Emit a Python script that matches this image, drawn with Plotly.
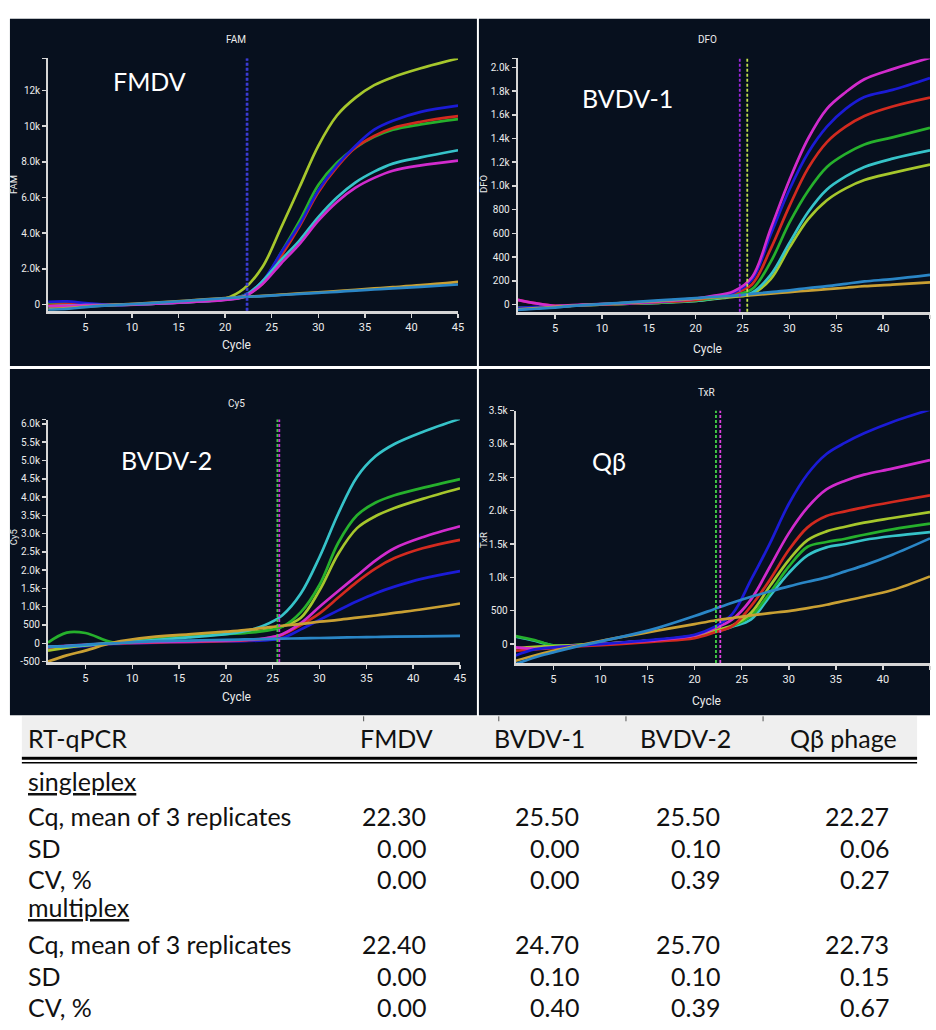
import plotly.graph_objects as go

W, H = 936, 1030

# ---------------------------------------------------------------- data
CYCLES = [1, 3, 5, 8, 12, 16, 20, 22, 24, 26, 28, 30, 32, 34, 36, 38, 41, 45]

# FAM channel (FMDV)
FAM_YELLOWGREEN = [60, 30, -20, -30, 40, 150, 330, 880, 2100, 4300, 6600, 8900, 10600, 11600, 12300, 12750, 13250, 13800]
FAM_BLUE = [150, 170, 80, -30, 30, 130, 280, 500, 1300, 2900, 4500, 6400, 7800, 8900, 9800, 10300, 10800, 11150]
FAM_RED = [-50, 0, 0, -30, 30, 130, 280, 480, 1150, 2700, 4400, 6300, 7700, 8800, 9450, 9900, 10250, 10560]
FAM_GREEN = [20, 30, 0, -30, 30, 140, 290, 520, 1250, 2900, 4700, 6700, 7950, 8800, 9400, 9800, 10100, 10400]
FAM_CYAN = [-100, -60, -40, -30, 30, 130, 270, 450, 1300, 2500, 3600, 4900, 6000, 6850, 7450, 7900, 8250, 8650]
FAM_MAGENTA = [-100, -80, -40, -30, 30, 130, 260, 420, 1150, 2300, 3400, 4700, 5750, 6550, 7100, 7500, 7800, 8070]
FAM_ORANGE = [-250, -200, -120, -20, 90, 220, 360, 430, 480, 550, 620, 680, 750, 820, 900, 970, 1080, 1270]
FAM_STEEL = [-300, -250, -150, -40, 80, 210, 350, 420, 470, 530, 590, 650, 710, 780, 840, 900, 990, 1120]

# DFO channel (BVDV-1)
DFO_MAGENTA = [40, 10, -10, 0, 10, 25, 50, 75, 110, 230, 640, 1050, 1400, 1650, 1790, 1900, 1985, 2080]
DFO_BLUE = [-30, -20, -15, -5, 10, 25, 50, 70, 100, 210, 590, 970, 1280, 1500, 1650, 1750, 1810, 1910]
DFO_RED = [40, 10, -10, -5, 5, 20, 40, 65, 95, 170, 470, 830, 1150, 1370, 1500, 1590, 1670, 1745]
DFO_GREEN = [-30, -25, -15, -5, 5, 18, 35, 55, 80, 130, 360, 690, 960, 1160, 1270, 1350, 1410, 1490]
DFO_CYAN = [-30, -25, -15, -5, 5, 15, 30, 50, 70, 100, 250, 520, 780, 970, 1080, 1160, 1230, 1300]
DFO_YELLOWGREEN = [-30, -25, -15, -5, 5, 15, 30, 48, 65, 90, 215, 480, 720, 880, 980, 1050, 1110, 1180]
DFO_STEEL = [-45, -35, -25, -5, 15, 35, 55, 65, 75, 90, 105, 120, 140, 155, 175, 195, 215, 250]
DFO_ORANGE = [-40, -30, -20, -5, 12, 30, 50, 60, 70, 80, 92, 105, 118, 130, 142, 155, 168, 188]

# Cy5 channel (BVDV-2)
CY5_CYAN = [-100, -80, -50, 0, 80, 160, 250, 330, 480, 760, 1360, 2360, 3550, 4550, 5120, 5450, 5780, 6140]
CY5_GREEN = [20, 290, 280, 20, 100, 180, 250, 280, 330, 450, 850, 1600, 2750, 3500, 3850, 4050, 4250, 4490]
CY5_YELLOWGREEN = [-200, -120, -60, 20, 110, 190, 260, 300, 350, 460, 700, 1450, 2450, 3150, 3480, 3700, 3950, 4240]
CY5_MAGENTA = [-100, -70, -40, 0, 30, 50, 70, 90, 130, 250, 550, 1000, 1430, 1850, 2270, 2600, 2900, 3200]
CY5_RED = [-120, -90, -50, -10, 20, 40, 60, 80, 120, 230, 500, 820, 1250, 1680, 2050, 2330, 2600, 2830]
CY5_BLUE = [-150, -120, -80, -20, 10, 30, 50, 60, 80, 140, 380, 640, 900, 1150, 1370, 1550, 1770, 1975]
CY5_ORANGE = [-500, -330, -200, 20, 170, 245, 317, 360, 420, 480, 530, 590, 640, 700, 760, 830, 930, 1087]
CY5_STEEL = [-100, -80, -40, 0, 50, 75, 95, 105, 115, 125, 135, 145, 155, 165, 172, 180, 190, 200]

# TxR channel (Qβ phage)
TXR_BLUE = [-170, -80, -50, -20, 20, 70, 140, 250, 450, 965, 1510, 2100, 2550, 2850, 3020, 3160, 3330, 3515]
TXR_MAGENTA = [-50, -70, -50, -20, 20, 60, 130, 230, 370, 670, 1160, 1660, 2050, 2320, 2450, 2540, 2630, 2757]
TXR_RED = [-100, -80, -60, -30, 0, 40, 90, 170, 270, 570, 965, 1410, 1750, 1920, 1990, 2050, 2130, 2230]
TXR_YELLOWGREEN = [-60, -40, -30, -10, 20, 60, 120, 200, 280, 470, 870, 1260, 1560, 1690, 1760, 1820, 1890, 1980]
TXR_GREEN = [120, 60, -20, -10, 20, 60, 120, 190, 270, 420, 770, 1160, 1460, 1530, 1580, 1640, 1720, 1805]
TXR_CYAN = [110, 50, -20, -10, 20, 60, 115, 180, 260, 370, 720, 1065, 1330, 1450, 1500, 1560, 1620, 1680]
TXR_STEEL = [-300, -200, -125, -20, 100, 240, 420, 520, 620, 710, 790, 866, 935, 1000, 1090, 1180, 1340, 1585]
TXR_ORANGE = [-250, -170, -100, -10, 100, 200, 300, 350, 390, 430, 465, 495, 540, 590, 650, 710, 810, 1015]

# axis ticks
CYCLE_TICKS = [5, 10, 15, 20, 25, 30, 35, 40, 45]
FAM_YTICKS = [0, 2000, 4000, 6000, 8000, 10000, 12000]
FAM_YTICKTEXT = ["0", "2.0k", "4.0k", "6.0k", "8.0k", "10k", "12k"]
DFO_YTICKS = [0, 200, 400, 600, 800, 1000, 1200, 1400, 1600, 1800, 2000]
DFO_YTICKTEXT = ["0", "200", "400", "600", "800", "1.0k", "1.2k", "1.4k", "1.6k", "1.8k", "2.0k"]
CY5_YTICKS = [-500, 0, 500, 1000, 1500, 2000, 2500, 3000, 3500, 4000, 4500, 5000, 5500, 6000]
CY5_YTICKTEXT = ["-500", "0", "500", "1.0k", "1.5k", "2.0k", "2.5k", "3.0k", "3.5k",
                 "4.0k", "4.5k", "5.0k", "5.5k", "6.0k"]
TXR_YTICKS = [0, 500, 1000, 1500, 2000, 2500, 3000, 3500]
TXR_YTICKTEXT = ["0", "500", "1.0k", "1.5k", "2.0k", "2.5k", "3.0k", "3.5k"]

# summary table
TABLE_HEADER = "RT-qPCR"
TABLE_COLUMNS = ["FMDV", "BVDV-1", "BVDV-2", "Qβ phage"]
ROW_LABELS = ["Cq, mean of 3 replicates", "SD", "CV, %"]
SINGLEPLEX_CQ = [22.30, 25.50, 25.50, 22.27]
SINGLEPLEX_SD = [0.00, 0.00, 0.10, 0.06]
SINGLEPLEX_CV = [0.00, 0.00, 0.39, 0.27]
MULTIPLEX_CQ = [22.40, 24.70, 25.70, 22.73]
MULTIPLEX_SD = [0.00, 0.10, 0.10, 0.15]
MULTIPLEX_CV = [0.00, 0.40, 0.39, 0.67]

# ---------------------------------------------------------------- styles
COLORS = {
    "yellowgreen": "#a6c72c",
    "blue": "#1b1bd6",
    "red": "#d22a1f",
    "green": "#26b02c",
    "cyan": "#36c3c9",
    "magenta": "#d12bcd",
    "orange": "#c9a033",
    "steel": "#2a86c6",
}
PANEL_BG = "#07101e"
AXIS_COLOR = "#d6d6d6"
TEXT_COLOR = "#ececec"
TICK_FONT = dict(family="Roboto, Liberation Sans Narrow, sans-serif", size=10, color=TEXT_COLOR)
LABEL_FONT = "Lato, Open Sans, sans-serif"


def px_x(x):
    return x / W


def px_y(y):
    return 1 - y / H


panels = [
    dict(channel="FAM", target="FMDV",
         series=[("yellowgreen", FAM_YELLOWGREEN), ("green", FAM_GREEN), ("red", FAM_RED),
                 ("blue", FAM_BLUE), ("cyan", FAM_CYAN), ("magenta", FAM_MAGENTA),
                 ("orange", FAM_ORANGE), ("steel", FAM_STEEL)],
         yticks=FAM_YTICKS, yticktext=FAM_YTICKTEXT,
         box=(48.5, 461, 53, 308), yrange=(-350, 13800), bg=(10, 480, 13, 364),
         cq_colors=("#3b3bd0", "#3b3bd0"), col=0,
         title_xy=(238, 34), cycle_xy=(238, 343), ytitle_xy=(13, 180), tag_xy=(150, 76)),
    dict(channel="DFO", target="BVDV-1",
         series=[("yellowgreen", DFO_YELLOWGREEN), ("cyan", DFO_CYAN), ("green", DFO_GREEN),
                 ("red", DFO_RED), ("blue", DFO_BLUE), ("magenta", DFO_MAGENTA),
                 ("orange", DFO_ORANGE), ("steel", DFO_STEEL)],
         yticks=DFO_YTICKS, yticktext=DFO_YTICKTEXT,
         box=(521, 936, 53, 309), yrange=(-60, 2075), bg=(482, 936, 13, 364),
         cq_colors=("#c4e24a", "#9a26dc"), col=1,
         title_xy=(712, 34), cycle_xy=(712, 347), ytitle_xy=(486, 180), tag_xy=(632, 93)),
    dict(channel="Cy5", target="BVDV-2",
         series=[("blue", CY5_BLUE), ("red", CY5_RED), ("magenta", CY5_MAGENTA),
                 ("yellowgreen", CY5_YELLOWGREEN), ("green", CY5_GREEN), ("cyan", CY5_CYAN),
                 ("orange", CY5_ORANGE), ("steel", CY5_STEEL)],
         yticks=CY5_YTICKS, yticktext=CY5_YTICKTEXT,
         box=(48.3, 463, 418, 663), yrange=(-510, 6120), bg=(10, 480, 367, 717),
         cq_colors=("#3fcf45", "#c92fd6"), col=2,
         title_xy=(238, 402), cycle_xy=(238, 698), ytitle_xy=(13, 537), tag_xy=(168, 459)),
    dict(channel="TxR", target="Qβ",
         series=[("cyan", TXR_CYAN), ("green", TXR_GREEN), ("yellowgreen", TXR_YELLOWGREEN),
                 ("red", TXR_RED), ("magenta", TXR_MAGENTA), ("blue", TXR_BLUE),
                 ("orange", TXR_ORANGE), ("steel", TXR_STEEL)],
         yticks=TXR_YTICKS, yticktext=TXR_YTICKTEXT,
         box=(519, 936, 409, 664), yrange=(-282, 3500), bg=(482, 936, 367, 717),
         cq_colors=("#45d447", "#e03fe0"), col=3,
         title_xy=(711, 391), cycle_xy=(711, 702), ytitle_xy=(486, 540), tag_xy=(613, 460)),
]

fig = go.Figure()
shapes = []
annotations = []
layout_axes = {}


def note(text, xy, size, family=TICK_FONT["family"], color=TEXT_COLOR, angle=0):
    annotations.append(dict(text=text, x=px_x(xy[0]), y=px_y(xy[1]), xref="paper", yref="paper",
                            showarrow=False, xanchor="center", yanchor="middle", textangle=angle,
                            font=dict(family=family, size=size, color=color)))


for i, p in enumerate(panels, start=1):
    xname = "x" if i == 1 else f"x{i}"
    yname = "y" if i == 1 else f"y{i}"
    x0, x1, y0, y1 = p["box"]

    # dark panel background
    bx0, bx1, by0, by1 = p["bg"]
    shapes.append(dict(type="rect", xref="paper", yref="paper", layer="below",
                       x0=px_x(bx0), x1=px_x(bx1), y0=px_y(by1), y1=px_y(by0),
                       fillcolor=PANEL_BG, line=dict(width=0)))

    for cname, values in p["series"]:
        fig.add_trace(go.Scatter(
            x=CYCLES, y=values, xaxis=xname, yaxis=yname, mode="lines",
            line=dict(color=COLORS[cname], width=2.7, shape="spline", smoothing=1.0),
            hoverinfo="skip", showlegend=False))

    # Cq markers: singleplex and multiplex means from the table
    for cq, color in ((SINGLEPLEX_CQ[p["col"]], p["cq_colors"][0]),
                      (MULTIPLEX_CQ[p["col"]], p["cq_colors"][1])):
        shapes.append(dict(type="line", xref=xname, yref=f"{yname} domain",
                           x0=cq, x1=cq, y0=0, y1=1,
                           line=dict(color=color, width=1.8, dash="3px,2px")))

    ytv = list(p["yticks"]) + [p["yrange"][1]]
    ytt = list(p["yticktext"]) + [""]
    layout_axes["xaxis" if i == 1 else f"xaxis{i}"] = dict(
        domain=[px_x(x0), px_x(x1)], range=[1, 45], anchor=yname,
        showgrid=False, zeroline=False, showline=True, linecolor=AXIS_COLOR, linewidth=3,
        ticks="outside", ticklen=4, tickwidth=1.5, tickcolor=AXIS_COLOR,
        tickvals=CYCLE_TICKS, tickfont=dict(TICK_FONT, size=11), fixedrange=True)
    layout_axes["yaxis" if i == 1 else f"yaxis{i}"] = dict(
        domain=[px_y(y1), px_y(y0)], range=list(p["yrange"]), anchor=xname,
        showgrid=False, zeroline=False, showline=True, linecolor=AXIS_COLOR, linewidth=2,
        ticks="outside", ticklen=4, tickwidth=1.5, tickcolor=AXIS_COLOR,
        tickvals=ytv, ticktext=ytt, tickfont=TICK_FONT, fixedrange=True)

    note(p["channel"], p["title_xy"], 10)
    note("Cycle", p["cycle_xy"], 12)
    note(p["channel"], p["ytitle_xy"], 9.5, angle=-90)
    note(p["target"], p["tag_xy"], 25, family=LABEL_FONT, color="#ffffff")

# ---------------------------------------------------------------- table
TBL_LEFT, TBL_RIGHT = 22, 923
shapes.append(dict(type="rect", xref="paper", yref="paper", layer="below",
                   x0=px_x(TBL_LEFT), x1=px_x(TBL_RIGHT), y0=px_y(758), y1=px_y(718),
                   fillcolor="#efefef", line=dict(width=0)))
shapes.append(dict(type="line", xref="paper", yref="paper",
                   x0=px_x(TBL_LEFT), x1=px_x(TBL_RIGHT), y0=px_y(760.3), y1=px_y(760.3),
                   line=dict(color="#000000", width=3)))
shapes.append(dict(type="line", xref="paper", yref="paper",
                   x0=px_x(TBL_LEFT), x1=px_x(TBL_RIGHT), y0=px_y(765), y1=px_y(765),
                   line=dict(color="#000000", width=1.5)))
for sx in (366, 502, 630, 768):
    shapes.append(dict(type="line", xref="paper", yref="paper",
                       x0=px_x(sx), x1=px_x(sx), y0=px_y(718), y1=px_y(723),
                       line=dict(color="#555555", width=1)))

TABLE_FONT = dict(family=LABEL_FONT, size=25, color="#111111")
COL_HEAD_X = [399, 543, 690, 849]
COL_RIGHT_X = [431, 585, 727, 897]
LABEL_X = 26


def cell(text, x, y, anchor):
    annotations.append(dict(text=text, x=px_x(x), y=px_y(y), xref="paper", yref="paper",
                            showarrow=False, xanchor=anchor, yanchor="middle", font=TABLE_FONT))


cell(TABLE_HEADER, LABEL_X, 740, "left")
for name, cx in zip(TABLE_COLUMNS, COL_HEAD_X):
    cell(name, cx, 740, "center")

blocks = [
    ("singleplex", 783, [(SINGLEPLEX_CQ, 819), (SINGLEPLEX_SD, 851), (SINGLEPLEX_CV, 882)]),
    ("multiplex", 911, [(MULTIPLEX_CQ, 948), (MULTIPLEX_SD, 980), (MULTIPLEX_CV, 1012)]),
]
for title, ty, rows in blocks:
    cell(f"<u>{title}</u>", LABEL_X, ty, "left")
    for label, (vals, ry) in zip(ROW_LABELS, rows):
        cell(label, LABEL_X, ry, "left")
        for v, rx in zip(vals, COL_RIGHT_X):
            cell(f"{v:.2f}", rx, ry, "right")

fig.update_layout(
    width=W, height=H, autosize=False,
    margin=dict(l=0, r=0, t=0, b=0, pad=0),
    paper_bgcolor="#ffffff", plot_bgcolor="rgba(0,0,0,0)",
    showlegend=False, shapes=shapes, annotations=annotations,
    **layout_axes,
)

fig.write_html("out.html", config={"displayModeBar": False, "staticPlot": True})
